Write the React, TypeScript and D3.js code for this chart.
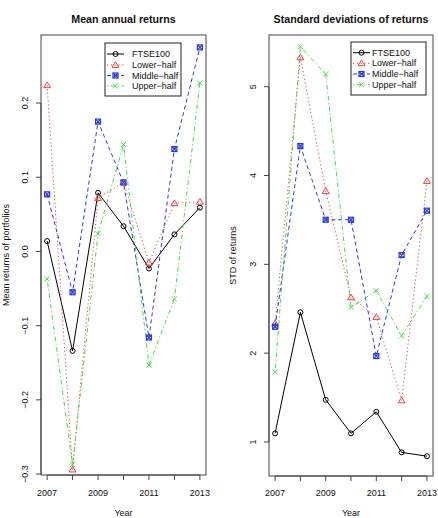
import React from "react";
import * as d3 from "d3";

const years = [2007, 2008, 2009, 2010, 2011, 2012, 2013];
const seriesNames = ["FTSE100", "Lower\u2212half", "Middle\u2212half", "Upper\u2212half"];

const meanFTSE = [0.014, -0.134, 0.079, 0.034, -0.023, 0.023, 0.059];
const meanLower = [0.224, -0.294, 0.072, 0.093, -0.015, 0.065, 0.067];
const meanMiddle = [0.077, -0.055, 0.175, 0.093, -0.116, 0.138, 0.275];
const meanUpper = [-0.037, -0.287, 0.024, 0.144, -0.153, -0.064, 0.227];

const stdFTSE = [1.097, 2.46, 1.475, 1.097, 1.34, 0.883, 0.84];
const stdLower = [2.335, 5.33, 3.825, 2.628, 2.407, 1.468, 3.938];
const stdMiddle = [2.297, 4.332, 3.502, 3.502, 1.967, 3.105, 3.604];
const stdUpper = [1.79, 5.45, 5.143, 2.515, 2.703, 2.196, 2.64];

const meanTicks = [-0.3, -0.2, -0.1, 0.0, 0.1, 0.2];
const stdTicks = [1, 2, 3, 4, 5];
const xTickLabels = [2007, 2009, 2011, 2013];

const colors = ["#000000", "#f04040", "#2a3ae0", "#44dd44"];
const dashes = ["none", "1.2 2.6", "4 3", "1.2 2.6 4.5 2.6"];
const font = "'Liberation Sans', Arial, Helvetica, sans-serif";

function Marker({ kind, x, y, color }: { kind: number; x: number; y: number; color: string }) {
  if (kind === 0) return <circle cx={x} cy={y} r={2.5} fill="none" stroke={color} strokeWidth={1} />;
  if (kind === 1) {
    const h = 3;
    return (
      <path
        d={`M${x},${y - h * 1.1} L${x + h * 1.15},${y + h * 0.8} L${x - h * 1.15},${y + h * 0.8} Z`}
        fill="none"
        stroke={color}
        strokeWidth={1}
      />
    );
  }
  if (kind === 2) {
    const s = 2.5;
    return (
      <g stroke={color} strokeWidth={1.2} fill="none">
        <rect x={x - s} y={y - s} width={2 * s} height={2 * s} />
        <path d={`M${x - s},${y - s} L${x + s},${y + s} M${x + s},${y - s} L${x - s},${y + s}`} />
      </g>
    );
  }
  const s = 2.5;
  return (
    <path
      d={`M${x - s},${y - s} L${x + s},${y + s} M${x + s},${y - s} L${x - s},${y + s}`}
      stroke={color}
      strokeWidth={1}
    />
  );
}

type PanelProps = {
  left: number;
  right: number;
  top: number;
  bottom: number;
  domain: [number, number];
  yTicks: number[];
  fmt: (v: number) => string;
  data: number[][];
  title: string;
  ylabel: string;
  ylabelX: number;
  tickLabelX: number;
  legend: { x0: number; x1: number; y0: number; y1: number; rows: number[]; lineX0: number; lineX1: number; textX: number };
};

function Panel(p: PanelProps) {
  const x = d3.scaleLinear().domain([2006.76, 2013.24]).range([p.left, p.right]);
  const y = d3.scaleLinear().domain(p.domain).range([p.bottom, p.top]);
  const line = d3
    .line<number>()
    .x((_, i) => x(years[i]))
    .y((d) => y(d));
  const axisCol = "#444";
  return (
    <g fontFamily={font}>
      <text x={(p.left + p.right) / 2} y={23} textAnchor="middle" fontWeight="bold" fontSize={10.7} fill="#111">
        {p.title}
      </text>
      {p.data.map((s, k) => (
        <path key={k} d={line(s) || ""} fill="none" stroke={colors[k]} strokeWidth={1} strokeDasharray={dashes[k]} />
      ))}
      {p.data.map((s, k) =>
        s.map((v, i) => <Marker key={`${k}-${i}`} kind={k} x={x(years[i])} y={y(v)} color={colors[k]} />)
      )}
      <rect x={p.left} y={p.top} width={p.right - p.left} height={p.bottom - p.top} fill="none" stroke={axisCol} strokeWidth={1} />
      <line x1={x(years[0])} x2={x(years[years.length - 1])} y1={p.bottom} y2={p.bottom} stroke={axisCol} />
      {years.map((yr) => (
        <line key={yr} x1={x(yr)} x2={x(yr)} y1={p.bottom} y2={p.bottom + 5} stroke={axisCol} />
      ))}
      {xTickLabels.map((yr) => (
        <text key={yr} x={x(yr)} y={495.5} textAnchor="middle" fontSize={9} fill="#111">
          {yr}
        </text>
      ))}
      <text x={(p.left + p.right) / 2} y={516} textAnchor="middle" fontSize={9} fill="#111">
        Year
      </text>
      <line x1={p.left} x2={p.left} y1={y(p.yTicks[0])} y2={y(p.yTicks[p.yTicks.length - 1])} stroke={axisCol} />
      {p.yTicks.map((t) => (
        <g key={t}>
          <line x1={p.left - 5} x2={p.left} y1={y(t)} y2={y(t)} stroke={axisCol} />
          <text
            transform={`translate(${p.tickLabelX},${y(t)}) rotate(-90)`}
            textAnchor="middle"
            dy="0.35em"
            fontSize={9}
            fill="#111"
          >
            {p.fmt(t)}
          </text>
        </g>
      ))}
      <text
        transform={`translate(${p.ylabelX},${(p.top + p.bottom) / 2}) rotate(-90)`}
        textAnchor="middle"
        dy="0.35em"
        fontSize={9}
        fill="#111"
      >
        {p.ylabel}
      </text>
      <rect
        x={p.legend.x0}
        y={p.legend.y0}
        width={p.legend.x1 - p.legend.x0}
        height={p.legend.y1 - p.legend.y0}
        fill="white"
        stroke="#222"
        strokeWidth={1}
      />
      {seriesNames.map((nm, k) => {
        const ry = p.legend.rows[k];
        const mx = (p.legend.lineX0 + p.legend.lineX1) / 2;
        return (
          <g key={nm}>
            <line
              x1={p.legend.lineX0}
              x2={p.legend.lineX1}
              y1={ry}
              y2={ry}
              stroke={colors[k]}
              strokeWidth={1}
              strokeDasharray={dashes[k]}
            />
            <Marker kind={k} x={mx} y={ry} color={colors[k]} />
            <text x={p.legend.textX} y={ry} dy="0.35em" fontSize={9} fill="#111">
              {nm}
            </text>
          </g>
        );
      })}
    </g>
  );
}

const fmtMean = (v: number) => (v < 0 ? "\u2212" : "") + Math.abs(v).toFixed(1);
const fmtStd = (v: number) => String(v);

export default function App() {
  return (
    <svg width={438} height={518} style={{ position: "absolute", left: 0, top: 0, background: "white" }}>
      <rect width={438} height={518} fill="white" />
      <Panel
        left={41}
        right={206}
        top={35}
        bottom={475}
        domain={[-0.3013, 0.2917]}
        yTicks={meanTicks}
        fmt={fmtMean}
        data={[meanFTSE, meanLower, meanMiddle, meanUpper]}
        title="Mean annual returns"
        ylabel="Mean returns of portfolios"
        ylabelX={6}
        tickLabelX={25}
        legend={{ x0: 105, x1: 181, y0: 43, y1: 96, rows: [54, 65, 75.5, 86], lineX0: 107, lineX1: 124, textX: 132 }}
      />
      <Panel
        left={269}
        right={433}
        top={35}
        bottom={476}
        domain={[0.617, 5.582]}
        yTicks={stdTicks}
        fmt={fmtStd}
        data={[stdFTSE, stdLower, stdMiddle, stdUpper]}
        title="Standard deviations of returns"
        ylabel="STD of returns"
        ylabelX={233}
        tickLabelX={253}
        legend={{ x0: 351, x1: 426, y0: 42, y1: 95, rows: [52.7, 63.3, 74, 84.7], lineX0: 353, lineX1: 370, textX: 372 }}
      />
    </svg>
  );
}
